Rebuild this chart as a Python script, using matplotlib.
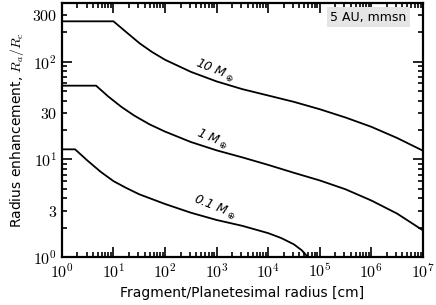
import numpy as np
import matplotlib
matplotlib.use('Agg')
from matplotlib import pyplot as plt
from matplotlib.ticker import FixedLocator, FixedFormatter, LogLocator, NullFormatter, FuncFormatter

# fragment radius [cm] and radius enhancement Ra/Rc
r_10 = [1, 10, 18, 32, 56, 100, 316, 1e3, 3.16e3, 1e4, 3.16e4, 1e5, 3.16e5, 1e6, 3.16e6, 1e7]
ra_10 = [260, 260, 200, 155, 126, 105, 79, 63, 52.5, 45.2, 38.9, 32.7, 26.9, 21.6, 16.6, 12.3]

r_1 = [1, 4.6, 7.9, 14.1, 25.1, 50, 100, 316, 1e3, 3.16e3, 1e4, 3.16e4, 1e5, 3.16e5, 1e6, 3.16e6, 1e7]
ra_1 = [57, 57, 44.2, 34.7, 28.2, 22.9, 19.3, 15.1, 12.4, 10.5, 8.8, 7.3, 6.1, 4.95, 3.8, 2.79, 1.88]

r_01 = [1, 1.8, 3.16, 5.6, 10, 17.8, 31.6, 100, 316, 1e3, 3.16e3, 1e4, 1.78e4, 3.16e4, 4.47e4, 5.9e4, 1e7]
ra_01 = [12.7, 12.7, 9.7, 7.5, 6.0, 5.1, 4.4, 3.5, 2.85, 2.4, 2.09, 1.76, 1.57, 1.35, 1.175, 1.0, 1.0]

ytick_major = [1, 10, 100]
ytick_major_labels = [r'$10^{0}$', r'$10^{1}$', r'$10^{2}$']
ytick_minor_labelled = {3: r'$3$', 30: r'$30$', 300: r'$300$'}
xtick_vals = [1e0, 1e1, 1e2, 1e3, 1e4, 1e5, 1e6, 1e7]
xtick_labels = [r'$10^{%d}$' % i for i in range(8)]

plt.rcParams['mathtext.fontset'] = 'cm'
plt.rcParams['font.family'] = 'DejaVu Sans'

fig = plt.figure(figsize=(4.36, 3.05), dpi=100)
ax = fig.add_axes([0.142, 0.157, 0.828, 0.833])

for r, ra in [(r_10, ra_10), (r_1, ra_1), (r_01, ra_01)]:
    ax.plot(r, ra, color='black', lw=1.3)

ax.set_xscale('log')
ax.set_yscale('log')
ax.set_xlim(1, 1e7)
ax.set_ylim(1, 400)

ax.xaxis.set_major_locator(FixedLocator(xtick_vals))
ax.xaxis.set_major_formatter(FixedFormatter(xtick_labels))
ax.xaxis.set_minor_locator(LogLocator(base=10, subs=np.arange(2, 10), numticks=20))
ax.xaxis.set_minor_formatter(NullFormatter())
ax.yaxis.set_major_locator(FixedLocator(ytick_major))
ax.yaxis.set_major_formatter(FixedFormatter(ytick_major_labels))
ax.yaxis.set_minor_locator(LogLocator(base=10, subs=np.arange(2, 10), numticks=20))


def minor_lab(v, pos):
    return ytick_minor_labelled.get(int(round(v)), '')


ax.yaxis.set_minor_formatter(FuncFormatter(minor_lab))

ax.tick_params(which='both', direction='in', top=True, right=True, width=1.2, labelsize=11.5)
ax.tick_params(which='major', length=7.5)
ax.tick_params(which='minor', length=3.5)
for s in ax.spines.values():
    s.set_linewidth(1.6)

ax.set_xlabel('Fragment/Planetesimal radius [cm]', fontsize=10)
ax.set_ylabel(r'Radius enhancement, $R_a/R_c$', fontsize=10)

kw = dict(rotation=-22, ha='center', va='center', fontsize=9, style='italic',
          math_fontfamily='dejavusans')
ax.text(930, 82, r'10 $M_\oplus$', **kw)
ax.text(800, 16.3, r'1 $M_\oplus$', **kw)
ax.text(930, 3.2, r'0.1 $M_\oplus$', **kw)

ax.text(0.955, 0.945, '5 AU, mmsn', transform=ax.transAxes, ha='right', va='center',
        fontsize=9, bbox=dict(facecolor='#e5e5e5', edgecolor='none', pad=2.5))

fig.savefig('out.png', dpi=100)
